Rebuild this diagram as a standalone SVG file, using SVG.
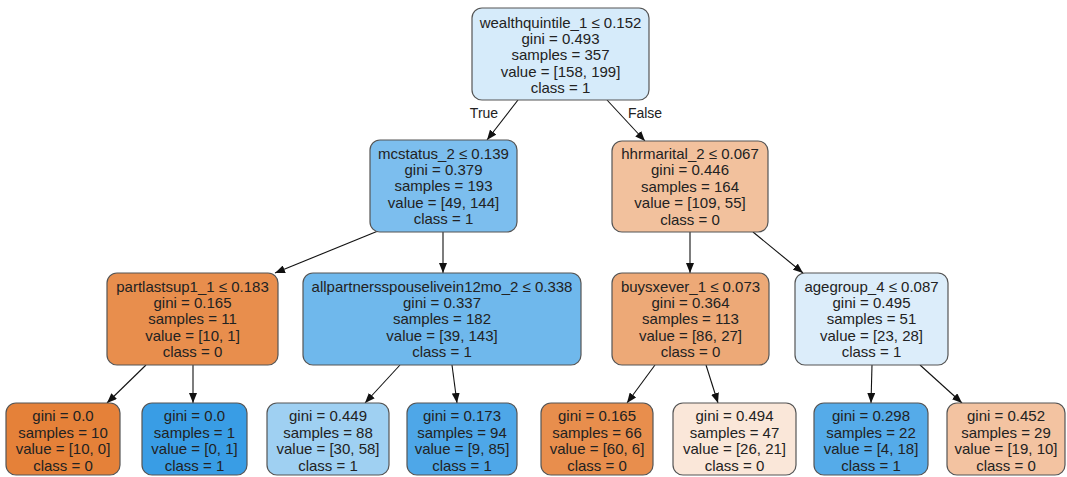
<svg xmlns="http://www.w3.org/2000/svg" width="1067" height="477" viewBox="0 0 1067 477">
<defs>
<style>
.box{stroke:#555;stroke-width:1.2}
.t{font-family:"Liberation Sans",Arial,Helvetica,sans-serif;font-size:15px;fill:#222;text-anchor:middle}
.lbl{font-family:"Liberation Sans",Arial,Helvetica,sans-serif;font-size:14px;fill:#222;text-anchor:middle}
.edge{stroke:#111;stroke-width:1.1;fill:none;marker-end:url(#arr)}
</style>
<marker id="arr" markerUnits="userSpaceOnUse" markerWidth="10" markerHeight="8" refX="10" refY="4" orient="auto">
<path d="M0,0 L10,4 L0,8 z" fill="#111"/>
</marker>
</defs>
<rect width="1067" height="477" fill="#fff"/>
<g id="connectors">
<path class="edge" d="M518,100 L487,140"/>
<path class="edge" d="M607,100 L645,141"/>
<path class="edge" d="M378,231 L275,273"/>
<path class="edge" d="M443,232 L443,273"/>
<path class="edge" d="M690,232 L690,273"/>
<path class="edge" d="M753,232 L803,273"/>
<path class="edge" d="M146,365 L107,403"/>
<path class="edge" d="M193,365 L193,403"/>
<path class="edge" d="M400,365 L365,403"/>
<path class="edge" d="M452,365 L457,403"/>
<path class="edge" d="M655,365 L627,403"/>
<path class="edge" d="M706,365 L718,403"/>
<path class="edge" d="M872,365 L871,403"/>
<path class="edge" d="M920,365 L962,403"/>
<text class="lbl" x="484" y="118">True</text>
<text class="lbl" x="645" y="118">False</text>
</g>
<g id="n0">
<rect class="box" x="472" y="8" width="177" height="92" rx="10" fill="#d6ebfa"/>
<text class="t" x="560.5" y="27.5">wealthquintile_1 ≤ 0.152</text>
<text class="t" x="560.5" y="43.9">gini = 0.493</text>
<text class="t" x="560.5" y="60.3">samples = 357</text>
<text class="t" x="560.5" y="76.7">value = [158, 199]</text>
<text class="t" x="560.5" y="93.1">class = 1</text>
</g>
<g id="n1">
<rect class="box" x="370" y="140" width="147" height="92" rx="10" fill="#7cbeee"/>
<text class="t" x="443.5" y="158.5">mcstatus_2 ≤ 0.139</text>
<text class="t" x="443.5" y="174.9">gini = 0.379</text>
<text class="t" x="443.5" y="191.3">samples = 193</text>
<text class="t" x="443.5" y="207.7">value = [49, 144]</text>
<text class="t" x="443.5" y="224.1">class = 1</text>
</g>
<g id="n2">
<rect class="box" x="612" y="141" width="156" height="91" rx="10" fill="#f2c19d"/>
<text class="t" x="690" y="159">hhrmarital_2 ≤ 0.067</text>
<text class="t" x="690" y="175.4">gini = 0.446</text>
<text class="t" x="690" y="191.8">samples = 164</text>
<text class="t" x="690" y="208.2">value = [109, 55]</text>
<text class="t" x="690" y="224.6">class = 0</text>
</g>
<g id="n3">
<rect class="box" x="107" y="273" width="171" height="92" rx="10" fill="#e88e4d"/>
<text class="t" x="192.5" y="291.5">partlastsup1_1 ≤ 0.183</text>
<text class="t" x="192.5" y="307.9">gini = 0.165</text>
<text class="t" x="192.5" y="324.3">samples = 11</text>
<text class="t" x="192.5" y="340.7">value = [10, 1]</text>
<text class="t" x="192.5" y="357.1">class = 0</text>
</g>
<g id="n4">
<rect class="box" x="303" y="273" width="278" height="92" rx="10" fill="#6fb8ec"/>
<text class="t" x="442" y="291.5">allpartnersspouselivein12mo_2 ≤ 0.338</text>
<text class="t" x="442" y="307.9">gini = 0.337</text>
<text class="t" x="442" y="324.3">samples = 182</text>
<text class="t" x="442" y="340.7">value = [39, 143]</text>
<text class="t" x="442" y="357.1">class = 1</text>
</g>
<g id="n5">
<rect class="box" x="612" y="273" width="157" height="92" rx="10" fill="#eda977"/>
<text class="t" x="690.5" y="291.5">buysxever_1 ≤ 0.073</text>
<text class="t" x="690.5" y="307.9">gini = 0.364</text>
<text class="t" x="690.5" y="324.3">samples = 113</text>
<text class="t" x="690.5" y="340.7">value = [86, 27]</text>
<text class="t" x="690.5" y="357.1">class = 0</text>
</g>
<g id="n6">
<rect class="box" x="795" y="273" width="153" height="92" rx="10" fill="#dcedfa"/>
<text class="t" x="871.5" y="291.5">agegroup_4 ≤ 0.087</text>
<text class="t" x="871.5" y="307.9">gini = 0.495</text>
<text class="t" x="871.5" y="324.3">samples = 51</text>
<text class="t" x="871.5" y="340.7">value = [23, 28]</text>
<text class="t" x="871.5" y="357.1">class = 1</text>
</g>
<g id="n7">
<rect class="box" x="6" y="403" width="114" height="72" rx="10" fill="#e58139"/>
<text class="t" x="63" y="421">gini = 0.0</text>
<text class="t" x="63" y="437.5">samples = 10</text>
<text class="t" x="63" y="454">value = [10, 0]</text>
<text class="t" x="63" y="470.5">class = 0</text>
</g>
<g id="n8">
<rect class="box" x="142" y="403" width="105" height="72" rx="10" fill="#399de5"/>
<text class="t" x="194.5" y="421">gini = 0.0</text>
<text class="t" x="194.5" y="437.5">samples = 1</text>
<text class="t" x="194.5" y="454">value = [0, 1]</text>
<text class="t" x="194.5" y="470.5">class = 1</text>
</g>
<g id="n9">
<rect class="box" x="267" y="403" width="122" height="72" rx="10" fill="#9fd0f2"/>
<text class="t" x="328" y="421">gini = 0.449</text>
<text class="t" x="328" y="437.5">samples = 88</text>
<text class="t" x="328" y="454">value = [30, 58]</text>
<text class="t" x="328" y="470.5">class = 1</text>
</g>
<g id="n10">
<rect class="box" x="407" y="403" width="110" height="72" rx="10" fill="#4ea7e8"/>
<text class="t" x="462" y="421">gini = 0.173</text>
<text class="t" x="462" y="437.5">samples = 94</text>
<text class="t" x="462" y="454">value = [9, 85]</text>
<text class="t" x="462" y="470.5">class = 1</text>
</g>
<g id="n11">
<rect class="box" x="541" y="403" width="112" height="72" rx="10" fill="#e88e4d"/>
<text class="t" x="597" y="421">gini = 0.165</text>
<text class="t" x="597" y="437.5">samples = 66</text>
<text class="t" x="597" y="454">value = [60, 6]</text>
<text class="t" x="597" y="470.5">class = 0</text>
</g>
<g id="n12">
<rect class="box" x="673" y="403" width="123" height="72" rx="10" fill="#fae7d9"/>
<text class="t" x="734.5" y="421">gini = 0.494</text>
<text class="t" x="734.5" y="437.5">samples = 47</text>
<text class="t" x="734.5" y="454">value = [26, 21]</text>
<text class="t" x="734.5" y="470.5">class = 0</text>
</g>
<g id="n13">
<rect class="box" x="814" y="403" width="114" height="72" rx="10" fill="#55abe9"/>
<text class="t" x="871" y="421">gini = 0.298</text>
<text class="t" x="871" y="437.5">samples = 22</text>
<text class="t" x="871" y="454">value = [4, 18]</text>
<text class="t" x="871" y="470.5">class = 1</text>
</g>
<g id="n14">
<rect class="box" x="947" y="403" width="118" height="72" rx="10" fill="#f3c3a1"/>
<text class="t" x="1006" y="421">gini = 0.452</text>
<text class="t" x="1006" y="437.5">samples = 29</text>
<text class="t" x="1006" y="454">value = [19, 10]</text>
<text class="t" x="1006" y="470.5">class = 0</text>
</g>
</svg>
